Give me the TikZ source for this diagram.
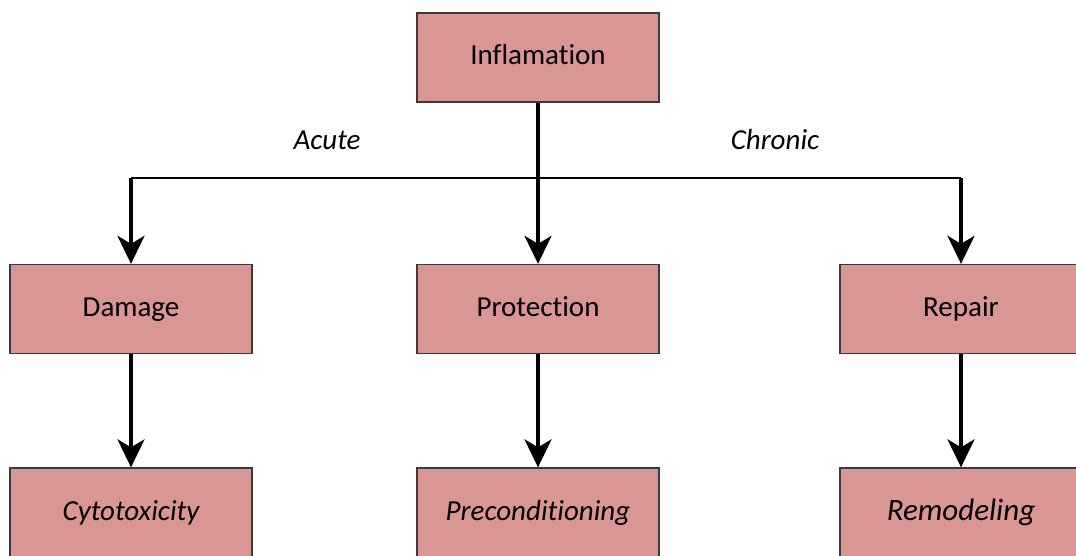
\documentclass[tikz,border=0pt]{standalone}
\usepackage{fontspec}
\setmainfont[Ligatures=NoCommon]{Carlito}
\usetikzlibrary{arrows.meta}
\definecolor{boxfill}{HTML}{D99694}
\definecolor{boxline}{HTML}{3A3A3A}
\tikzset{
  box/.style={draw=boxline, line width=1.3pt, fill=boxfill, minimum width=242pt, minimum height=89pt, inner sep=0pt, text height=21pt, text depth=6pt, font=\fontsize{29}{34}\selectfont},
  lbl/.style={font=\fontsize{29}{34}\selectfont\itshape, inner sep=0pt},
  arr/.style={line width=3.5pt, -{Stealth[length=28pt, width=27pt, inset=8pt]}},
  bar/.style={line width=1.6pt}
}
\begin{document}
\begin{tikzpicture}[x=1pt, y=-1pt]
\useasboundingbox (0,0) rectangle (1076,556);
\clip (0,0) rectangle (1076,556);
\node[box] (infl) at (538,57.5) {Inflamation};
\node[box] (dam) at (131,309) {Damage};
\node[box] (prot) at (538,309) {Protection};
\node[box] (rep) at (961,309) {Repair};
\node[box, font=\fontsize{29}{34}\selectfont\itshape] (cyto) at (131,512.5) {Cytotoxicity};
\node[box, font=\fontsize{29}{34}\selectfont\itshape] (prec) at (538,512.5) {Preconditioning};
\node[box, font=\fontsize{31}{36}\selectfont\itshape] (remo) at (961,512.5) {Remodeling};
\node[lbl] (acute) at (327,140) {Acute};
\node[lbl] (chron) at (775,140) {Chronic};
\coordinate (bl) at (131,178);
\coordinate (br) at (961,178);
\draw[bar] (bl) -- (br);
\draw[arr] (infl.south) -- (prot.north);
\draw[arr] (bl) -- (dam.north);
\draw[arr] (br) -- (rep.north);
\draw[arr] (dam.south) -- (cyto.north);
\draw[arr] (prot.south) -- (prec.north);
\draw[arr] (rep.south) -- (remo.north);
\end{tikzpicture}
\end{document}
